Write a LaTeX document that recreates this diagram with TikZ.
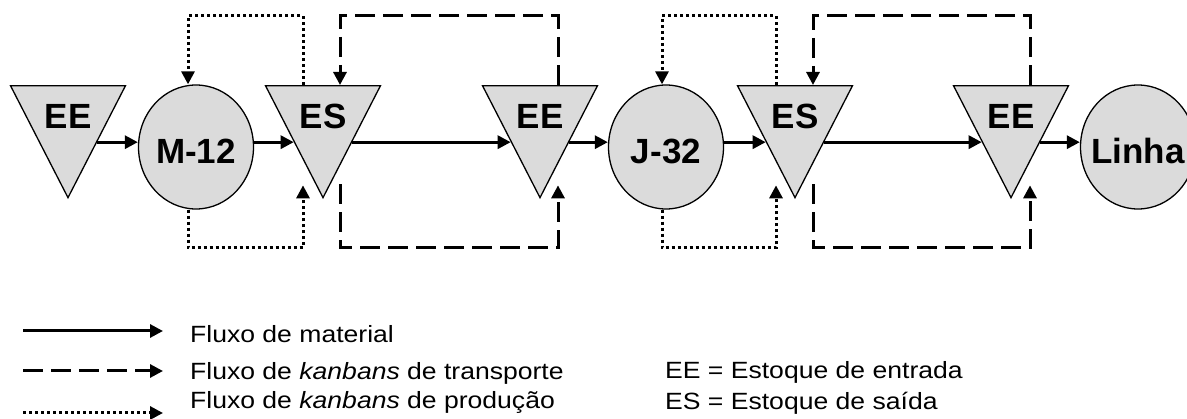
\documentclass[tikz,border=0pt]{standalone}
\usepackage{fontspec}
\setmainfont{Liberation Sans}
\newfontfamily\keyfont{Liberation Sans}[FakeStretch=1.13]
\usetikzlibrary{arrows.meta,shapes.geometric,positioning}

\begin{document}
\begin{tikzpicture}[
  x=1pt, y=-1pt,
  >={Triangle[length=13pt,width=13pt]},
  every node/.style={inner sep=0pt},
  stock/.style={isosceles triangle, isosceles triangle stretches, shape border rotate=270,
    draw, line width=1.3pt, fill=black!14, minimum width=115pt, minimum height=112pt},
  process/.style={ellipse, draw, line width=1.3pt, fill=black!14,
    minimum width=115pt, minimum height=124pt},
  stocklabel/.style={font=\fontsize{35}{40}\selectfont\bfseries, yshift=4pt},
  proclabel/.style={font=\fontsize{35}{40}\selectfont\bfseries, yshift=-4pt},
  material/.style={line width=3pt, ->},
  transport/.style={line width=3pt, dash pattern=on 20pt off 8pt, ->},
  production/.style={line width=3pt, dash pattern=on 3pt off 3pt, ->},
  keytext/.style={font=\keyfont\fontsize{23.5}{27}\selectfont, anchor=base west},
  ]
  \useasboundingbox (0,0) rectangle (1187,419);

  \node[stock, anchor=north, label={[stocklabel]center:EE}] (ee1) at (68,85) {};
  \node[process, below right=62pt and 128pt of ee1.north, anchor=center, label={[proclabel]center:M-12}] (m12) {};
  \node[stock, above right=62pt and 127pt of m12.center, anchor=north, label={[stocklabel]center:ES}] (es1) {};
  \node[stock, right=217pt of es1.north, anchor=north, label={[stocklabel]center:EE}] (ee2) {};
  \node[process, below right=62pt and 126pt of ee2.north, anchor=center, label={[proclabel]center:J-32}] (j32) {};
  \node[stock, above right=62pt and 129pt of j32.center, anchor=north, label={[stocklabel]center:ES}] (es2) {};
  \node[stock, right=216pt of es2.north, anchor=north, label={[stocklabel]center:EE}] (ee3) {};
  \node[process, below right=62pt and 127pt of ee3.north, anchor=center, label={[proclabel]center:Linha}] (linha) {};

  \coordinate (kbtop) at (0,16);
  \coordinate (kbbot) at (0,248);

  % material
  \draw[material] (ee1.left side) -- (ee1.left side -| m12.west);
  \draw[material] (es1.right side -| m12.east) -- (es1.right side);
  \draw[material] (es1.left side) -- (ee2.right side);
  \draw[material] (ee2.left side) -- (ee2.left side -| j32.west);
  \draw[material] (es2.right side -| j32.east) -- (es2.right side);
  \draw[material] (es2.left side) -- (ee3.right side);
  \draw[material] (ee3.left side) -- (ee3.left side -| linha.west);

  % production kanbans
  \draw[production] ([xshift=-20pt]es1.north) -- ([xshift=-20pt]es1.north |- kbtop) -| ([xshift=-8pt]m12.north);
  \draw[production] ([xshift=-8pt]m12.south) -- ([xshift=-8pt]m12.south |- kbbot) -| ([xshift=-20pt,yshift=14pt]es1.apex);
  \draw[production] ([xshift=-19pt]es2.north) -- ([xshift=-19pt]es2.north |- kbtop) -| ([xshift=-4pt]j32.north);
  \draw[production] ([xshift=-4pt]j32.south) -- ([xshift=-4pt]j32.south |- kbbot) -| ([xshift=-19pt,yshift=14pt]es2.apex);

  % transport kanbans
  \draw[transport] ([xshift=18pt]ee2.north) -- ([xshift=18pt]ee2.north |- kbtop) -| ([xshift=17pt]es1.north);
  \draw[transport] ([xshift=17pt,yshift=15pt]es1.apex) -- ([xshift=17pt]es1.apex |- kbbot) -| ([xshift=18pt,yshift=14pt]ee2.apex);
  \draw[transport] ([xshift=19pt]ee3.north) -- ([xshift=19pt]ee3.north |- kbtop) -| ([xshift=18pt]es2.north);
  \draw[transport] ([xshift=18pt,yshift=15pt]es2.apex) -- ([xshift=18pt]es2.apex |- kbbot) -| ([xshift=19pt,yshift=14pt]ee3.apex);

  % key
  \node[keytext] (key1) at (190,343) {Fluxo de material};
  \node[keytext] (key2) at (190,380) {Fluxo de \textit{kanbans} de transporte};
  \node[keytext] (key3) at (190,409) {Fluxo de \textit{kanbans} de produção};
  \node[keytext] (keyee) at (665,379) {EE = Estoque de entrada};
  \node[keytext] (keyes) at (665,410) {ES = Estoque de saída};

  \draw[material] ([shift={(-167pt,12pt)}]key1.base west) -- ([shift={(-27pt,12pt)}]key1.base west);
  \draw[transport] ([shift={(-167pt,9pt)}]key2.base west) -- ([shift={(-27pt,9pt)}]key2.base west);
  \draw[production] ([shift={(-167pt,-4pt)}]key3.base west) -- ([shift={(-27pt,-4pt)}]key3.base west);
\end{tikzpicture}
\end{document}
